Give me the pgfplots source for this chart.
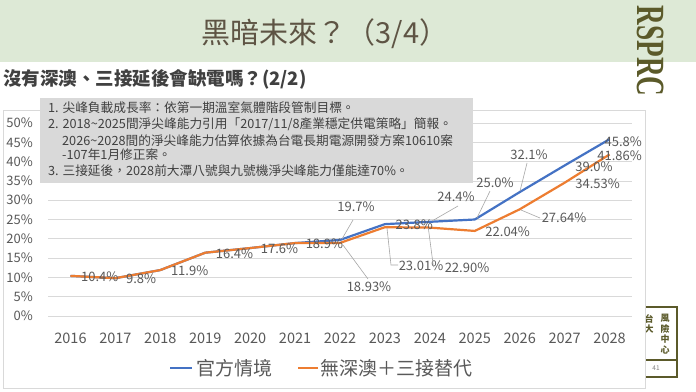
\documentclass[border=0pt]{standalone}
\usepackage{fontspec}
\usepackage{pgfplots}
\pgfplotsset{compat=1.18}
\setmainfont{Noto Sans CJK TC}
\newfontfamily\seriflogo{Liberation Serif}
\definecolor{blu}{HTML}{4472C4}
\definecolor{org}{HTML}{ED7D31}
\definecolor{grd}{HTML}{D9D9D9}
\definecolor{lbl}{HTML}{595959}
\definecolor{band}{HTML}{DDE9D6}
\definecolor{ttl}{HTML}{5E5444}
\definecolor{olive}{HTML}{5B5A2A}
\definecolor{note}{HTML}{404040}
\definecolor{lead}{HTML}{A6A6A6}
\newcommand\fs[1]{\fontsize{#1bp}{#1bp}\selectfont}
\begin{document}
\begin{tikzpicture}[
  lab/.style={font=\fs{13}, text=lbl, inner sep=0},
  std/.style={font=\fs{13}, text=lbl, inner sep=0, anchor=west, xshift=10.5bp, yshift=-1bp},
  ld/.style={draw=lead, line width=0.6bp}]
\begin{scope}[x=1bp,y=1bp]
\path[use as bounding box, fill=white] (0,0) rectangle (696,391);
\fill[band] (0,329) rectangle (696,391);
\node[text=ttl, font=\fs{29}, inner sep=0] at (325,357) {黑暗未來？（3/4）};
\node[anchor=west, text=note, font=\fs{18.5}\bfseries, inner sep=0] at (3,312) {沒有深澳、三接延後會缺電嗎？(2/2)};
% logo
\node[rotate=-90, xscale=0.68, transform shape, text=olive, font=\seriflogo\bfseries\fs{40}, inner sep=0] at (651,340) {RSPRC};
% stamp
\node[font=\fontsize{9bp}{10.5bp}\selectfont\bfseries, text=olive, align=center, inner sep=0] at (665,57) {風\\險\\中\\心};
\node[font=\fontsize{9bp}{10.5bp}\selectfont\bfseries, text=olive, align=center, inner sep=0] at (649,67) {台\\大};
\draw[olive, line width=2.2bp] (640,84) -- (677,84) -- (677,14) -- (640,14);
\draw[olive, line width=1.5bp] (640,31) -- (677,31);
\node[font=\fs{6.5}, text=gray, inner sep=0] at (656,23) {41};
% chart area
\draw[grd, fill=white, line width=0.75bp] (3,3) rectangle (645,281);
\end{scope}
\begin{axis}[
  at={(48bp,75bp)}, anchor=south west, scale only axis,
  width=584bp, height=193bp,
  xmin=-0.5, xmax=12.5, ymin=0, ymax=50,
  xtick={0,1,2,3,4,5,6,7,8,9,10,11,12},
  xticklabels={2016,2017,2018,2019,2020,2021,2022,2023,2024,2025,2026,2027,2028},
  ytick={0,5,10,15,20,25,30,35,40,45,50},
  yticklabels={0\%,5\%,10\%,15\%,20\%,25\%,30\%,35\%,40\%,45\%,50\%},
  ymajorgrids, grid style={grd, line width=0.75bp},
  axis line style={draw=none}, major tick length=0,
  xticklabel style={font=\fs{14.5}, text=lbl, anchor=center, yshift=-22bp, inner sep=0},
  yticklabel style={font=\fs{13}, text=lbl, anchor=east, xshift=-15bp, inner sep=0},
  /pgf/number format/assume math mode=true,
  clip=false,
]
\addplot[blu, line width=2.2bp, line join=round] coordinates {
 (0,10.4)(1,9.8)(2,11.9)(3,16.4)(4,17.6)(5,18.9)(6,19.7)(7,23.8)(8,24.4)(9,25.0)(10,32.1)(11,39.0)(12,45.8)};
\addplot[org, line width=2.2bp, line join=round] coordinates {
 (0,10.4)(1,9.8)(2,11.9)(3,16.4)(4,17.6)(5,18.9)(6,18.93)(7,23.01)(8,22.90)(9,22.04)(10,27.64)(11,34.53)(12,41.86)};
% standard labels
\node[std] at (axis cs:0,10.4) {10.4\%};
\node[std] at (axis cs:1,9.8) {9.8\%};
\node[std] at (axis cs:2,11.9) {11.9\%};
\node[std] at (axis cs:3,16.4) {16.4\%};
\node[std] at (axis cs:4,17.6) {17.6\%};
\node[std] at (axis cs:5,18.9) {18.9\%};
\node[std] at (axis cs:7,23.8) {23.8\%};
\node[std] at (axis cs:11,39.0) {39.0\%};
\node[std] at (axis cs:11,34.53) {34.53\%};
\node[std] at (axis cs:9,22.04) {22.04\%};
\node[lab, anchor=east] at (axis cs:12.723,45.08) {45.8\%};
\node[lab, anchor=east] at (axis cs:12.723,41.45) {41.86\%};
% callouts
\node[lab] at (axis cs:6.356,28.24) {19.7\%};
\draw[ld] (axis cs:6.289,24.87) -- (axis cs:6.044,19.95);
\node[lab] at (axis cs:8.582,30.83) {24.4\%};
\draw[ld] (axis cs:8.627,28.50) -- (axis cs:8.048,24.61);
\node[lab] at (axis cs:9.450,34.46) {25.0\%};
\draw[ld] (axis cs:9.339,32.38) -- (axis cs:9.049,25.39);
\node[lab] at (axis cs:10.207,41.71) {32.1\%};
\draw[ld] (axis cs:10.163,39.64) -- (axis cs:10.007,32.38);
\node[lab] at (axis cs:6.645,7.51) {18.93\%};
\draw[ld] (axis cs:6.066,18.39) -- (axis cs:6.623,9.59);
\node[lab] at (axis cs:7.803,12.95) {23.01\%};
\draw[ld] (axis cs:7.046,22.80) -- (axis cs:7.135,13.21) -- (axis cs:7.291,13.21);
\node[lab] at (axis cs:8.827,12.44) {22.90\%};
\draw[ld] (axis cs:7.969,22.54) -- (axis cs:8.080,12.69);
\node[lab] at (axis cs:10.986,25.39) {27.64\%};
\draw[ld] (axis cs:10.029,27.46) -- (axis cs:10.452,25.39);
\end{axis}
\begin{scope}[x=1bp,y=1bp]
% note box
\fill[grd] (40,208) rectangle (473,293);
\begin{scope}[every node/.style={anchor=west, inner sep=0, text=note, font=\fs{12.7}}]
\node at (48,283) {1. 尖峰負載成長率：依第一期溫室氣體階段管制目標。};
\node at (48,267) {2. 2018\textasciitilde 2025間淨尖峰能力引用「2017/11/8產業穩定供電策略」簡報。};
\node at (62,250) {2026\textasciitilde 2028間的淨尖峰能力估算依據為台電長期電源開發方案10610案};
\node at (62,236) {-107年1月修正案。};
\node at (48,220) {3. 三接延後，2028前大潭八號與九號機淨尖峰能力僅能達70\%。};
\end{scope}
% legend
\draw[blu, line width=2.2bp] (170,23) -- (192,23);
\node[anchor=west, inner sep=0, text=lbl, font=\fs{19}] at (196,23) {官方情境};
\draw[org, line width=2.2bp] (298,23) -- (318,23);
\node[anchor=west, inner sep=0, text=lbl, font=\fs{19}] at (320,23) {無深澳＋三接替代};
\end{scope}
\end{tikzpicture}
\end{document}
